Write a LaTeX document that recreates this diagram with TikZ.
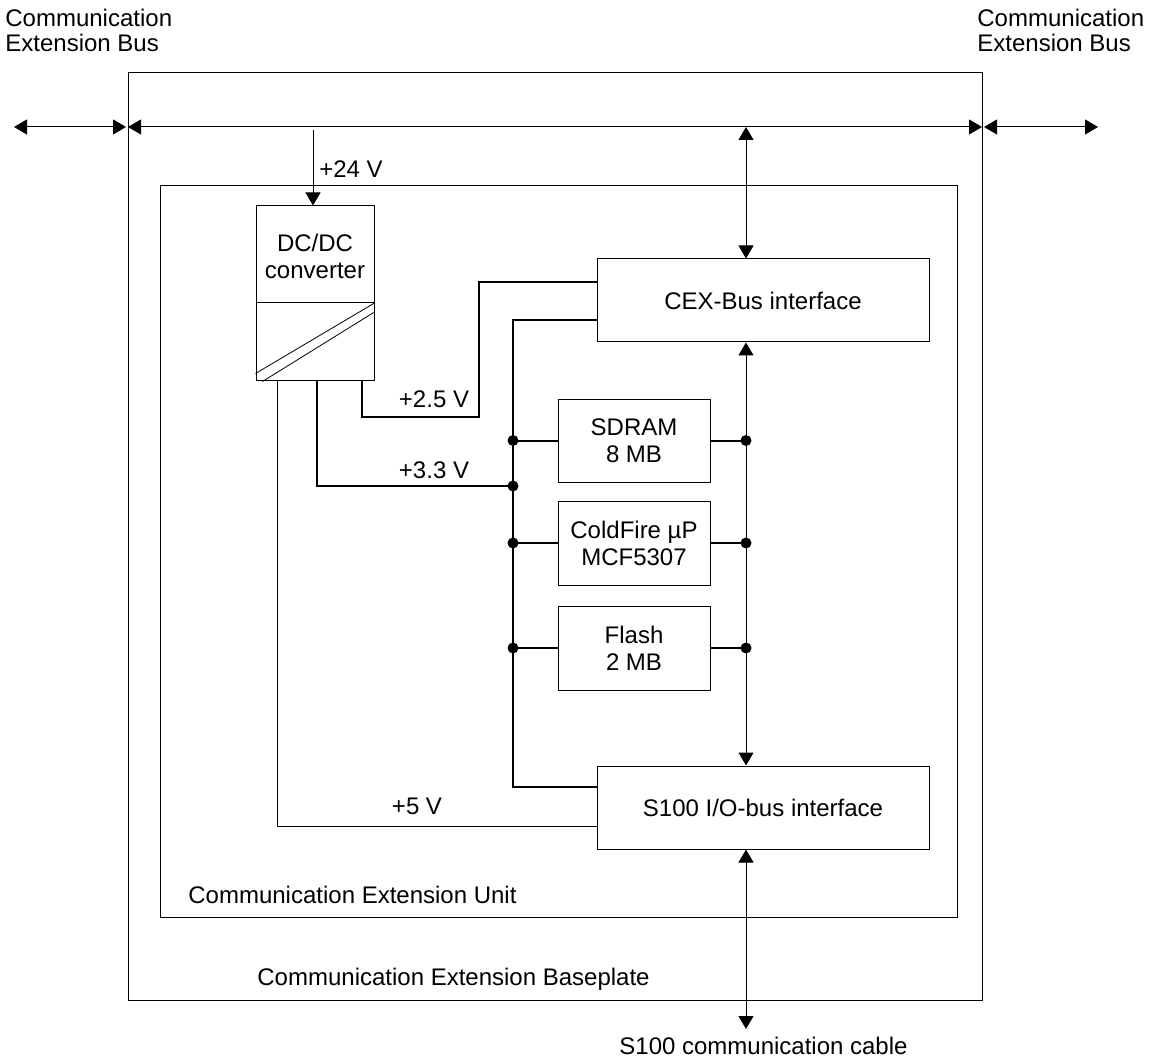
\documentclass[tikz,border=0pt]{standalone}
\usepackage{fontspec}
\setmainfont{Liberation Sans}
\usetikzlibrary{arrows.meta,positioning,calc}

\tikzset{
  box/.style={draw, line width=0.5pt, inner sep=0pt, align=center,
    font=\fontsize{12}{13.5}\selectfont},
  txt/.style={inner sep=0pt, align=left, font=\fontsize{12}{12.5}\selectfont},
  link/.style={line width=0.5pt,
    {Triangle[length=6.5pt,width=7.5pt]}-{Triangle[length=6.5pt,width=7.5pt]}},
  feedin/.style={line width=0.5pt, -{Triangle[length=6.5pt,width=7.5pt]}},
  feed/.style={line width=1pt},
  wire/.style={line width=0.5pt},
  dot/.style={circle, fill, inner sep=0pt, minimum size=5.5pt},
}

\begin{document}
\begin{tikzpicture}[x=0.5pt,y=-0.5pt]
\useasboundingbox (0,0) rectangle (1154,1063);

% frames
\node[box, minimum width=427pt, minimum height=463.5pt] (plate) at (555,536.5) {};
\node[box, minimum width=398.5pt, minimum height=365.5pt] (unit) at (558.5,551.5) {};

% blocks
\node[box, minimum width=59pt, minimum height=87.5pt] (dcdc) at (315,293.5) {};
\node[box, minimum width=166pt, minimum height=41.5pt] (cex) at (763,300.5) {CEX-Bus interface};
\node[box, minimum width=166pt, minimum height=41.5pt] (s100) at (763,807.5) {S100 I/O-bus interface};
\node[box, minimum width=76pt, minimum height=41.5pt] (sdram) at (634,440.5) {SDRAM\\8 MB};
\node[box, minimum width=76pt, minimum height=42pt] (cpu) at (634,543) {ColdFire µP\\MCF5307};
\node[box, minimum width=76pt, minimum height=42pt] (flash) at (634,648) {Flash\\2 MB};

% converter symbol
\node[txt, align=center, font=\fontsize{12}{13.5}\selectfont] (dcdctxt) at (315,256) {DC/DC\\converter};
\coordinate (split) at (315,303);
\coordinate (splitE) at (dcdc.east |- split);
\draw[wire] (dcdc.west |- split) -- (splitE);
\draw[line width=0.4pt] ([yshift=4pt]dcdc.south west) -- (splitE);
\draw[line width=0.4pt] ([xshift=3.5pt]dcdc.south west) -- ([yshift=-4.5pt]splitE);

% texts
\node[txt, anchor=west] (cebL) at (5,30.5) {Communication\\Extension Bus};
\node[txt, anchor=west] (cebR) at (977,30.5) {Communication\\Extension Bus};
\node[txt, anchor=west] (unittxt) at (188,895) {Communication Extension Unit};
\node[txt, anchor=west] (platetxt) at (257,979) {Communication Extension Baseplate};
\node[txt, anchor=west] (cabletxt) at (619,1046) {S100 communication cable};

% extension bus
\coordinate (busL) at (128,127);
\coordinate (busR) at (982,127);
\coordinate (extL) at (14,127);
\coordinate (extR) at (1098,127);
\draw[link] (busL) -- (busR);
\draw[link] (extL) -- ([xshift=-1pt]busL);
\draw[link] ([xshift=1pt]busR) -- (extR);

% 24 V supply
\coordinate (tap) at (313,130);
\draw[feedin] (tap) -- (tap |- dcdc.north);
\node[txt] (l24) at (351,169) {+24 V};

% data bus
\coordinate (cexbus) at (746,127);
\coordinate (cable) at (746,1029);
\draw[link] (cexbus) -- (cexbus |- cex.north);
\draw[link] (cexbus |- cex.south) -- (cexbus |- s100.north);
\draw[link] (cexbus |- s100.south) -- (cable);

% supply rails
\coordinate (v25) at (362,417);
\coordinate (v25b) at (479,282);
\draw[feed] (dcdc.south -| v25) -- (v25) -| (v25b) -- (cex.west |- v25b);
\node[txt] (l25) at (434,399) {+2.5 V};

\coordinate (v33) at (317,486);
\coordinate (lbus) at (513,320);
\coordinate (lbusB) at (513,787);
\draw[feed] (dcdc.south -| v33) |- (lbus |- v33);
\node[txt] (l33) at (434,470) {+3.3 V};

\draw[feed] (cex.west |- lbus) -- (lbus) -- (lbusB) -- (s100.west |- lbusB);

\coordinate (v5) at (277,826);
\draw[wire] (dcdc.south -| v5) |- (s100.west |- v5);
\node[txt] (l5) at (417,806) {+5 V};

% taps to memory and cpu
\foreach \blk in {sdram,cpu,flash}{
  \draw[feed] (lbus |- \blk) -- (\blk.west);
  \draw[feed] (\blk.east) -- (cexbus |- \blk);
  \node[dot] (pl\blk) at (lbus |- \blk) {};
  \node[dot] (pr\blk) at (cexbus |- \blk) {};
}
\node[dot] (p33) at (lbus |- v33) {};
\end{tikzpicture}
\end{document}
